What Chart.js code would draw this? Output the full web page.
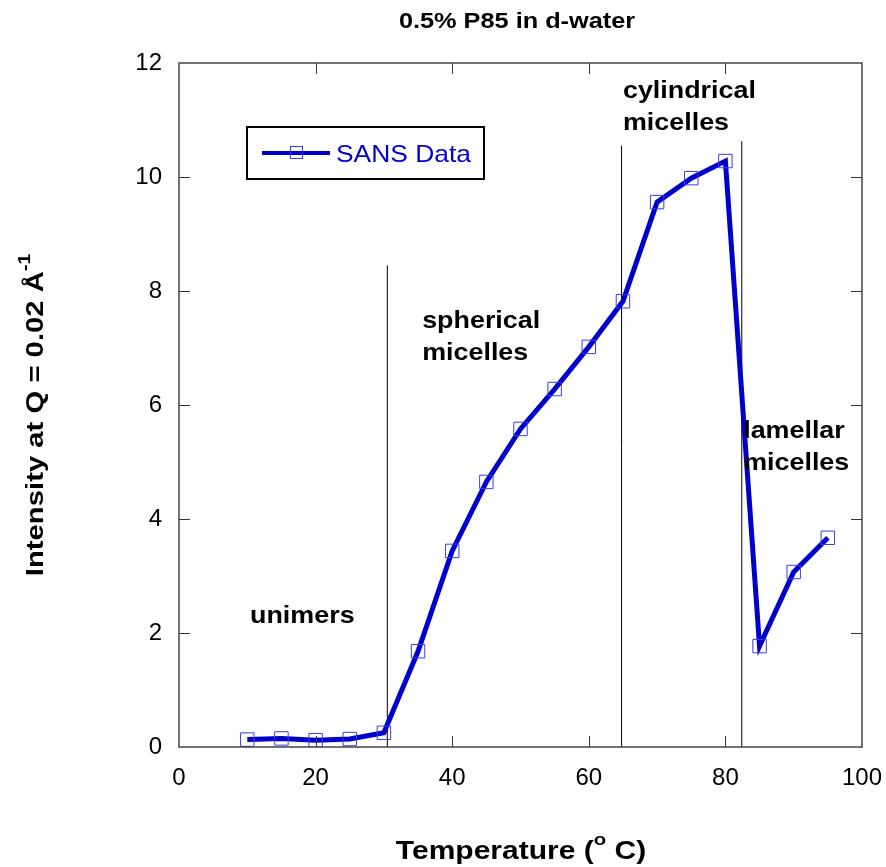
<!DOCTYPE html>
<html lang="en">
<head>
<meta charset="UTF-8">
<title>0.5% P85 in d-water</title>
<style>
    html, body { margin: 0; padding: 0; background: #fff; }
    .chart-container { position: relative; width: 886px; height: 867px; }
</style>
</head>
<body>
<div class="chart-container">
    <canvas id="myChart" width="886" height="867"></canvas>
</div>

<script src="https://cdn.jsdelivr.net/npm/chart.js@4.4.1/dist/chart.umd.min.js"></script>
<script>
    // SANS data
    const temperatures = [10, 15, 20, 25, 30, 35, 40, 45, 50, 55, 60, 65, 70, 75, 80, 85, 90, 95];
    const intensity = [0.13, 0.15, 0.12, 0.14, 0.25, 1.68, 3.44, 4.65, 5.58, 6.28, 7.02, 7.82, 9.56, 9.98, 10.28, 1.77, 3.07, 3.67];

    // phase boundary lines: x and top y
    const boundaryX = [30.5, 64.8, 82.4];
    const boundaryTop = [8.45, 10.55, 10.63];

    // region labels (x, baseline y in data units)
    const regionLabels = [
        { lines: ['unimers'], x: 10.4, y: 2.18 },
        { lines: ['spherical', 'micelles'], x: 35.6, y: 7.35 },
        { lines: ['cylindrical', 'micelles'], x: 65.0, y: 11.39 },
        { lines: ['lamellar', 'micelles'], x: 82.6, y: 5.42 }
    ];

    const font = '"Liberation Sans", Arial, sans-serif';
    const blue = 'rgb(0, 0, 204)';
    const STRETCH = 1.12; // the original text is a bit wide

    const boundaryDatasets = boundaryX.map((x, i) => ({
        label: 'boundary' + i,
        data: [{ x: x, y: 0 }, { x: x, y: boundaryTop[i] }],
        borderColor: '#000',
        borderWidth: 1,
        pointRadius: 0,
        fill: false
    }));

    // draw text stretched horizontally, left aligned at x
    function wideText(ctx, text, x, y, sx) {
        ctx.save();
        ctx.translate(x, y);
        ctx.scale(sx, 1);
        ctx.fillText(text, 0, 0);
        ctx.restore();
        return ctx.measureText(text).width * sx;
    }

    const decorations = {
        id: 'decorations',
        afterDraw(chart) {
            const ctx = chart.ctx;
            const xs = chart.scales.x, ys = chart.scales.y;
            const a = chart.chartArea;
            ctx.save();

            // inner ticks
            ctx.strokeStyle = '#333';
            ctx.lineWidth = 1;
            ctx.beginPath();
            for (let v = 20; v < 100; v += 20) {
                const px = Math.round(xs.getPixelForValue(v)) + 0.5;
                ctx.moveTo(px, a.bottom); ctx.lineTo(px, a.bottom - 11);
                ctx.moveTo(px, a.top); ctx.lineTo(px, a.top + 11);
            }
            for (let v = 2; v < 12; v += 2) {
                const py = Math.round(ys.getPixelForValue(v)) + 0.5;
                ctx.moveTo(a.left, py); ctx.lineTo(a.left + 11, py);
                ctx.moveTo(a.right, py); ctx.lineTo(a.right - 11, py);
            }
            ctx.stroke();

            // frame
            ctx.strokeStyle = '#444';
            ctx.lineWidth = 1.5;
            ctx.strokeRect(a.left, a.top, a.right - a.left, a.bottom - a.top);

            // region labels
            ctx.fillStyle = '#000';
            ctx.font = 'bold 24px ' + font;
            ctx.textAlign = 'left';
            ctx.textBaseline = 'alphabetic';
            regionLabels.forEach(r => {
                const px = xs.getPixelForValue(r.x);
                const py = ys.getPixelForValue(r.y);
                r.lines.forEach((t, i) => wideText(ctx, t, px, py + i * 32, STRETCH));
            });

            // legend
            ctx.lineWidth = 2;
            ctx.strokeStyle = '#000';
            ctx.strokeRect(247, 127, 237, 52);
            ctx.strokeStyle = blue;
            ctx.lineWidth = 4;
            ctx.beginPath();
            ctx.moveTo(262, 153); ctx.lineTo(330, 153);
            ctx.stroke();
            ctx.lineWidth = 1;
            ctx.strokeStyle = 'rgb(60, 60, 230)';
            ctx.strokeRect(290.5, 146.5, 12, 12);
            ctx.fillStyle = blue;
            ctx.font = '24px ' + font;
            wideText(ctx, 'SANS Data', 336, 162, 1.1);

            // title
            ctx.fillStyle = '#000';
            ctx.font = 'bold 22px ' + font;
            const tw = ctx.measureText('0.5% P85 in d-water').width * 1.15;
            wideText(ctx, '0.5% P85 in d-water', 517 - tw / 2, 28, 1.15);

            // x axis title with superscript
            const xsx = 1.2;
            ctx.font = 'bold 25px ' + font;
            const w1 = ctx.measureText('Temperature (').width * xsx;
            const w3 = ctx.measureText(' C)').width * xsx;
            ctx.font = 'bold 17px ' + font;
            const w2 = ctx.measureText('o').width * xsx;
            const sx = 521 - (w1 + w2 + w3) / 2;
            ctx.font = 'bold 25px ' + font;
            wideText(ctx, 'Temperature (', sx, 859, xsx);
            ctx.font = 'bold 17px ' + font;
            wideText(ctx, 'o', sx + w1, 845, xsx);
            ctx.font = 'bold 25px ' + font;
            wideText(ctx, ' C)', sx + w1 + w2, 859, xsx);

            // y axis title with superscript
            const ysx = 1.22;
            ctx.translate(43, 415);
            ctx.rotate(-Math.PI / 2);
            ctx.font = 'bold 24px ' + font;
            const v1 = ctx.measureText('Intensity at Q = 0.02 Å').width * ysx;
            ctx.font = 'bold 16px ' + font;
            const v2 = ctx.measureText('-1').width * ysx;
            const sy = -(v1 + v2) / 2;
            ctx.font = 'bold 24px ' + font;
            wideText(ctx, 'Intensity at Q = 0.02 Å', sy, 0, ysx);
            ctx.font = 'bold 16px ' + font;
            wideText(ctx, '-1', sy + v1, -13, ysx);

            ctx.restore();
        }
    };

    const ctx = document.getElementById('myChart').getContext('2d');
    const myChart = new Chart(ctx, {
        type: 'line',
        data: {
            datasets: [{
                label: 'SANS Data',
                data: temperatures.map((t, i) => ({ x: t, y: intensity[i] })),
                borderColor: blue,
                borderWidth: 5,
                pointStyle: 'rect',
                pointRadius: 9.5,
                pointBorderWidth: 1,
                pointBorderColor: 'rgb(60, 60, 230)',
                pointBackgroundColor: 'rgba(0,0,0,0)',
                fill: false,
                tension: 0
            }, ...boundaryDatasets]
        },
        options: {
            responsive: false,
            animation: false,
            layout: { padding: { top: 63, right: 24, left: 0, bottom: 0 } },
            scales: {
                x: {
                    type: 'linear',
                    min: 0,
                    max: 100,
                    ticks: { stepSize: 20, color: '#000', padding: 17, font: { family: font, size: 24 } },
                    grid: { display: false, drawTicks: false },
                    border: { display: false },
                    afterFit(scale) {
                        scale.height = 120;
                        scale.paddingLeft = 0;
                        scale.paddingRight = 0;
                    }
                },
                y: {
                    type: 'linear',
                    min: 0,
                    max: 12,
                    ticks: { stepSize: 2, color: '#000', padding: 17, font: { family: font, size: 24 } },
                    grid: { display: false, drawTicks: false },
                    border: { display: false },
                    afterFit(scale) {
                        scale.width = 179;
                        scale.paddingTop = 0;
                        scale.paddingBottom = 0;
                    }
                }
            },
            plugins: {
                legend: { display: false },
                tooltip: { enabled: false }
            }
        },
        plugins: [decorations]
    });
</script>
</body>
</html>
